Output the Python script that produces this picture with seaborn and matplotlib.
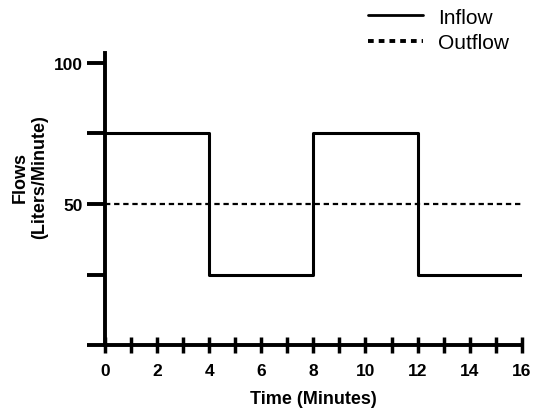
import matplotlib
matplotlib.use("Agg")
import matplotlib.pyplot as plt
import seaborn as sns
import pandas as pd

# data
inflow_time = [0, 4, 8, 12, 16]
inflow_value = [75, 25, 75, 25, 25]
outflow_time = [0, 16]
outflow_value = [50, 50]
x_major = [0, 2, 4, 6, 8, 10, 12, 14, 16]
y_ticks = [0, 25, 50, 75, 100]
y_labels = ["", "", "50", "", "100"]

sns.set_style("white")
plt.rcParams["font.family"] = ["Liberation Sans", "DejaVu Sans"]
plt.rcParams["text.color"] = "black"
plt.rcParams["axes.labelcolor"] = "black"
plt.rcParams["xtick.color"] = "black"
plt.rcParams["ytick.color"] = "black"

fig = plt.figure(figsize=(5.39, 4.10), dpi=100)
ax = fig.add_axes([0.1948, 0.156, 0.968 - 0.1948, 0.683 + 0.0285])

df_in = pd.DataFrame({"t": inflow_time, "v": inflow_value})
df_out = pd.DataFrame({"t": outflow_time, "v": outflow_value})

sns.lineplot(data=df_in, x="t", y="v", ax=ax, color="black", lw=2.2,
             drawstyle="steps-post", label="Inflow")
sns.lineplot(data=df_out, x="t", y="v", ax=ax, color="black", lw=1.6,
             label="Outflow")
ax.lines[1].set_dashes((2.4, 1.7))

ax.set_xlim(0, 16)
ax.set_ylim(0, 103.4)
for s in ["top", "right"]:
    ax.spines[s].set_visible(False)
for s in ["left", "bottom"]:
    ax.spines[s].set_linewidth(2.8)
    ax.spines[s].set_color("black")
ax.spines["bottom"].set_bounds(0, 16)

ax.set_xticks(range(0, 17))
ax.set_xticklabels([str(i) if i in x_major else "" for i in range(0, 17)],
                   fontweight="bold", fontsize=12.5, color="black")
ax.tick_params(axis="x", bottom=True, direction="inout", length=11.5,
               width=2.5, color="black", labelcolor="black", pad=7.5)
ax.set_yticks(y_ticks)
ax.set_yticklabels(y_labels, fontweight="bold", fontsize=12.5, color="black")
ax.tick_params(axis="y", left=True, direction="out", length=13, width=2.8,
               color="black", labelcolor="black", pad=3)

ax.set_xlabel("Time (Minutes)", fontweight="bold", fontsize=13, labelpad=8,
              color="black")
ax.set_ylabel("Flows\n(Liters/Minute)", fontweight="bold", fontsize=13,
              linespacing=1.15, color="black")
ax.yaxis.set_label_coords(-0.137, 0.578)

leg = ax.legend(loc="upper left", bbox_to_anchor=(0.612, 1.185),
                frameon=False, fontsize=15, handlelength=2.6,
                handletextpad=0.75, labelspacing=0.32, borderaxespad=0,
                labelcolor="black")
hl = leg.get_lines()
hl[0].set_linewidth(2.0)
hl[1].set_linewidth(2.8)
hl[1].set_dashes((1.47, 1.29))

fig.savefig("out.png", dpi=100)
